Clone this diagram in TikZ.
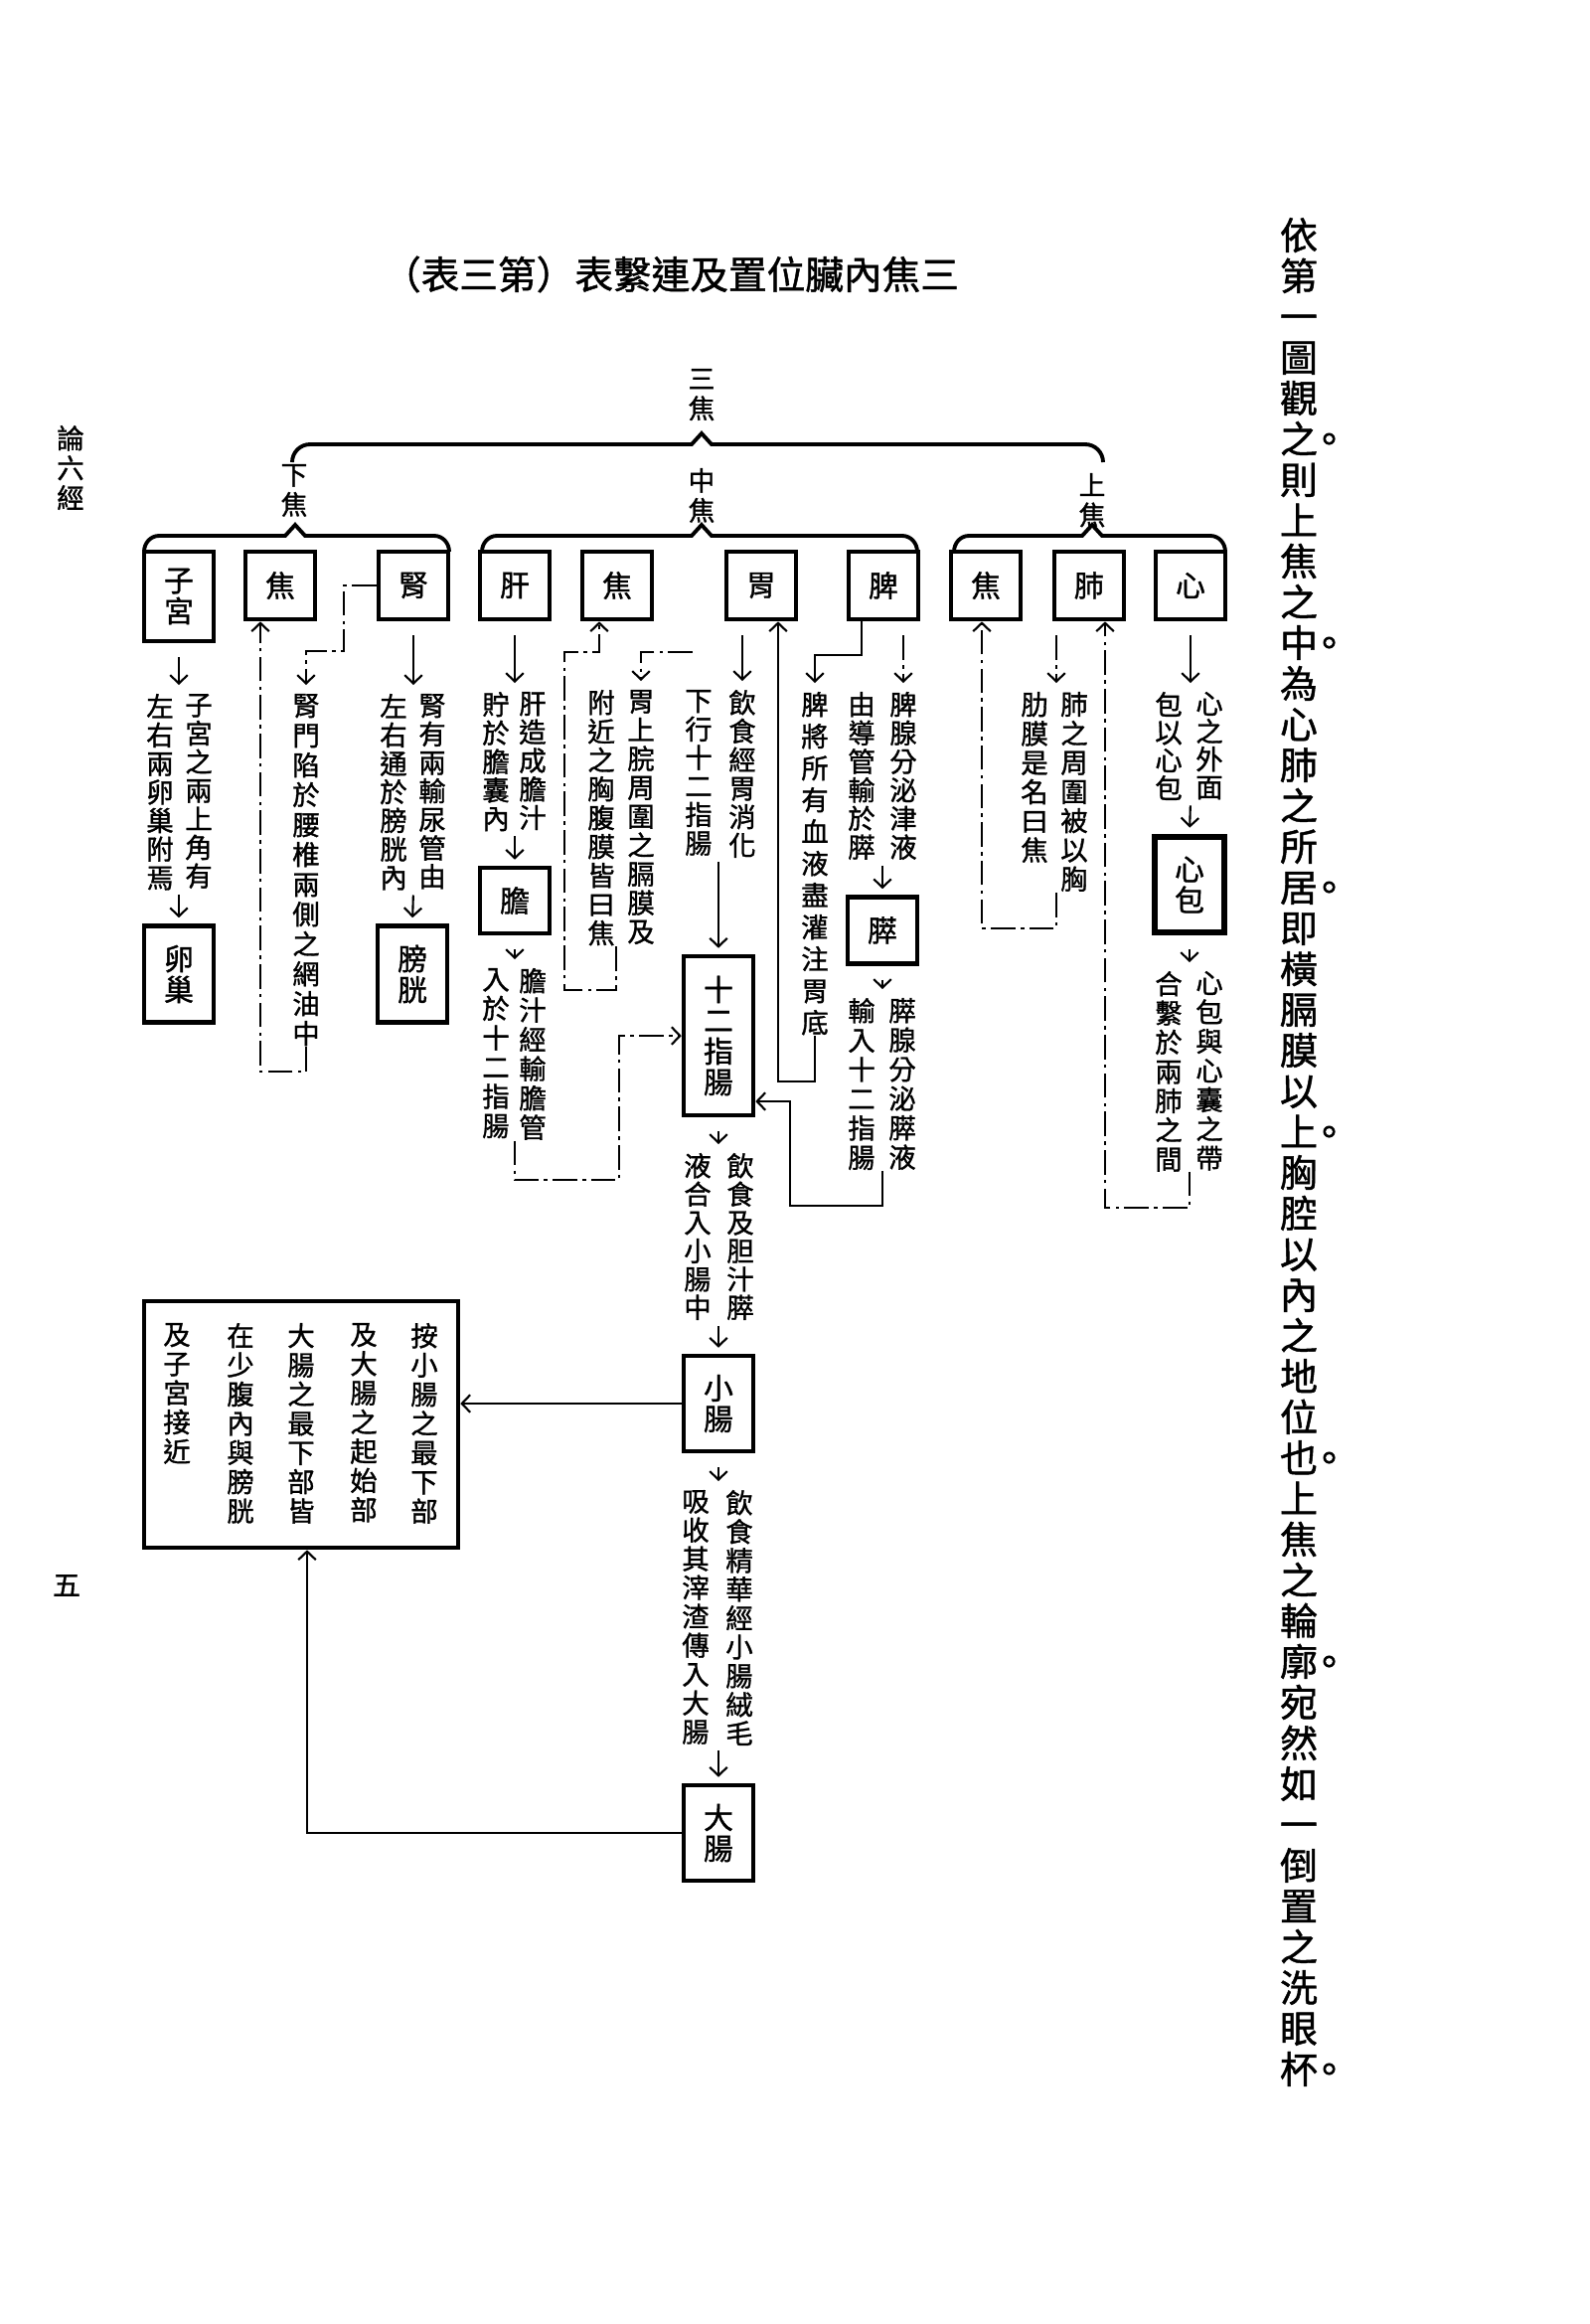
\documentclass[tikz,border=0pt]{standalone}
\usepackage{fontspec}
\newfontfamily\cjk{Noto Sans CJK TC}[FakeBold=1.2]
\usetikzlibrary{arrows.meta}
\setlength\parindent{0pt}
\makeatletter
\newcommand\vcol[1]{\@tfor\vch:=#1\do{\vch\par}}
\makeatother
\newcommand\ju{\rlap{\kern-.2em 。}}

\tikzset{
  organ/.style={draw, line width=1.3pt, minimum width=7mm, minimum height=#1, inner sep=0pt,
    text width=3.2mm, align=center, font=\cjk\fontsize{8.5pt}{3.1mm}\selectfont},
  organ/.default=6.8mm,
  vtext/.style={anchor=north, inner sep=0pt, text width=3mm, align=center,
    font=\cjk\fontsize{7.8pt}{#1}\selectfont},
  vtext/.default=2.87mm,
  head/.style={anchor=north, inner sep=0pt, text width=3mm, align=center,
    font=\cjk\fontsize{7.6pt}{3mm}\selectfont},
  ar/.style={->, shorten <=1.4mm, shorten >=0.8mm},
  ar2/.style={->, shorten <=0.5mm, shorten >=0.6mm},
  brk/.style={dash pattern=on 7pt off 1.5pt on 1pt off 1.5pt},
  brace/.style={line width=1.1pt}
}

\begin{document}
\begin{tikzpicture}[x=0.1mm, y=-0.1mm, line width=0.6pt,
    >={Straight Barb[length=2.4pt,width=5pt]}]
    \useasboundingbox (0,0) rectangle (1600,2338);

    % Titel
    \node[font=\cjk\fontsize{11pt}{13pt}\selectfont, inner sep=0pt] (title) at (675,276)
        {（表三第）表繫連及置位臟內焦三};

    % Rand
    \node[head, font=\cjk\fontsize{7.8pt}{3mm}\selectfont] (lun) at (71,427) {\vcol{論六經}};
    \node[inner sep=0pt, font=\cjk\fontsize{8pt}{9pt}\selectfont] (wu) at (67,1595) {五};

    % rechts
    \node[anchor=north, inner sep=0pt, text width=4mm, align=center,
          font=\cjk\fontsize{10.8pt}{4.1mm}\selectfont] (side) at (1307,218)
        {\vcol{依第一圖觀{之\ju}則上焦之{中\ju}為心肺之所{居\ju}即橫膈膜以{上\ju}胸腔以內之地位{也\ju}上焦之輪{廓\ju}宛然如一倒置之洗眼{杯\ju}}};

    % Klammern
    \node[head] (sanjiao) at (706,370) {\vcol{三焦}};
    \draw[brace] (294,465) to[out=90,in=180] (312,447) -- (696,447) -- (706,436)
                 -- (716,447) -- (1092,447) to[out=0,in=90] (1110,465);
    \node[head] (xiajiao) at (296,466) {\vcol{下焦}};
    \node[head] (zhongjiao) at (706,470) {\vcol{中焦}};
    \node[head] (shangjiao) at (1099,475) {\vcol{上焦}};
    \draw[brace] (145,555) to[out=90,in=180] (160,539) -- (287,539) -- (297,528)
                 -- (307,539) -- (437,539) to[out=0,in=90] (452,555);
    \draw[brace] (485,555) to[out=90,in=180] (500,539) -- (696,539) -- (706,528)
                 -- (716,539) -- (908,539) to[out=0,in=90] (923,555);
    \draw[brace] (960,555) to[out=90,in=180] (975,539) -- (1089,539) -- (1099,528)
                 -- (1109,539) -- (1218,539) to[out=0,in=90] (1233,555);

    % Kaesten
    \node[organ=9mm] (zigong) at (180,600) {\vcol{子宮}};
    \node[organ=9.7mm] (luanchao) at (180,980) {\vcol{卵巢}};
    \node[organ] (jiaoL) at (282,589) {焦};
    \node[organ] (shen) at (416,589) {腎};
    \node[organ=9.7mm] (pangguang) at (415,980) {\vcol{膀胱}};
    \node[organ] (gan) at (518,589) {肝};
    \node[organ=6.6mm] (dan) at (518,906) {膽};
    \node[organ] (jiaoM) at (621,589) {焦};
    \node[organ] (wei) at (766,589) {胃};
    \node[organ] (pi) at (889,589) {脾};
    \node[organ=6.7mm] (cui) at (888,936) {膵};
    \node[organ=16mm] (shier) at (723,1042) {\vcol{十二指腸}};
    \node[organ=9.6mm] (xiao) at (723,1412) {\vcol{小腸}};
    \node[organ=9.6mm] (da) at (723,1844) {\vcol{大腸}};
    \node[organ] (jiaoU) at (992,589) {焦};
    \node[organ] (fei) at (1096,589) {肺};
    \node[organ] (xin) at (1198,589) {心};
    \node[organ=9.6mm, line width=1.9pt] (xinbao) at (1197,890) {\vcol{心包}};
    \node[draw, line width=1.3pt, minimum width=31.6mm, minimum height=24.8mm] (note) at (303,1433) {};

    % Texte
    \node[vtext] (zgR) at (200,697) {\vcol{子宮之兩上角有}};
    \node[vtext] (zgL) at (161,697) {\vcol{左右兩卵巢附焉}};
    \node[vtext=3mm] (smT) at (308,697) {\vcol{腎門陷於腰椎兩側之網油中}};
    \node[vtext] (shR) at (435,697) {\vcol{腎有兩輸尿管由}};
    \node[vtext] (shL) at (396,697) {\vcol{左右通於膀胱內}};
    \node[vtext] (gaR) at (536,695) {\vcol{肝造成膽汁}};
    \node[vtext] (gaL) at (499,695) {\vcol{貯於膽囊內}};
    \node[vtext=2.95mm] (daR) at (536,973) {\vcol{膽汁經輸膽管}};
    \node[vtext=2.95mm] (daL) at (499,973) {\vcol{入於十二指腸}};
    \node[vtext=2.9mm] (jmR) at (645,693) {\vcol{胃上脘周圍之膈膜及}};
    \node[vtext=2.9mm] (jmL) at (605,693) {\vcol{附近之胸腹膜皆曰焦}};
    \node[vtext] (weR) at (747,693) {\vcol{飲食經胃消化}};
    \node[vtext] (weL) at (703,693) {\vcol{下行十二指腸}};
    \node[vtext=3.2mm] (pjT) at (820,695) {\vcol{脾將所有血液盡灌注胃底}};
    \node[vtext] (pxR) at (909,695) {\vcol{脾腺分泌津液}};
    \node[vtext] (pxL) at (867,695) {\vcol{由導管輸於膵}};
    \node[vtext=2.95mm] (cxR) at (908,1003) {\vcol{膵腺分泌膵液}};
    \node[vtext=2.95mm] (cxL) at (867,1003) {\vcol{輸入十二指腸}};
    \node[vtext=2.85mm] (szR) at (745,1159) {\vcol{飲食及胆汁膵}};
    \node[vtext=2.85mm] (szL) at (702,1159) {\vcol{液合入小腸中}};
    \node[vtext=2.9mm] (xcR) at (744,1498) {\vcol{飲食精華經小腸絨毛}};
    \node[vtext=2.9mm] (xcL) at (700,1498) {\vcol{吸收其滓渣傳入大腸}};
    \node[vtext=2.93mm] (feR) at (1081,695) {\vcol{肺之周圍被以胸}};
    \node[vtext=2.93mm] (feL) at (1041,695) {\vcol{肋膜是名曰焦}};
    \node[vtext=2.8mm] (xnR) at (1217,695) {\vcol{心之外面}};
    \node[vtext=2.8mm] (xnL) at (1176,695) {\vcol{包以心包}};
    \node[vtext=2.94mm] (xbR) at (1217,976) {\vcol{心包與心囊之帶}};
    \node[vtext=2.94mm] (xbL) at (1176,976) {\vcol{合繫於兩肺之間}};
    \node[vtext=2.94mm] (n1) at (427,1330) {\vcol{按小腸之最下部}};
    \node[vtext=2.94mm] (n2) at (366,1330) {\vcol{及大腸之起始部}};
    \node[vtext=2.94mm] (n3) at (303,1330) {\vcol{大腸之最下部皆}};
    \node[vtext=2.94mm] (n4) at (242,1330) {\vcol{在少腹內與膀胱}};
    \node[vtext=2.94mm] (n5) at (178,1330) {\vcol{及子宮接近}};

    % 下焦
    \draw[ar] (zigong.south) -- (zigong.south |- zgR.north);
    \draw[ar2] (zigong.south |- zgR.south) -- (luanchao.north);
    \draw[brk,->] (smT.south) -- ++(0,25) -| ([xshift=-2mm]jiaoL.south);
    \draw[brk,->,shorten >=0.8mm] (shen.west) -- ++(-33,0) -- ++(0,66) -| (smT.north);
    \draw[ar] (shen.south) -- (shen.south |- shR.north);
    \draw[ar2] (shen.south |- shR.south) -- (pangguang.north);

    % 中焦
    \draw[ar] (gan.south) -- (gan.south |- gaR.north);
    \draw[ar2] (gan.south |- gaR.south) -- (dan.north);
    \draw[ar] (dan.south) -- (dan.south |- daR.north);
    \coordinate (dnA) at (623,1187);
    \draw[brk,->] (dan.south |- daR.south) |- (dnA) |- (shier.west);
    \coordinate (jmA) at (568,996);
    \coordinate (jmB) at (568,656);
    \draw[brk,->] ([xshift=1.5mm]jmL.south) |- (jmA) -- (jmB) -| ([xshift=-1.8mm]jiaoM.south);
    \coordinate (jmC) at (697,656);
    \draw[brk,->,shorten >=0.8mm] (jmC) -| (jmR.north);
    \draw[ar] ([xshift=-1.9mm]wei.south) -- ([xshift=-1.9mm]wei.south |- weR.north);
    \draw[ar2] (weL.south -| shier.north) -- (shier.north);
    \coordinate (pjA) at (783,1088);
    \draw[->] (pjT.south) |- (pjA) -- (pjA |- wei.south);
    \draw[->,shorten >=0.8mm] ([xshift=-2.2mm]pi.south) -- ++(0,34) -| (pjT.north);
    \draw[brk,ar] ([xshift=2mm]pi.south) -- ([xshift=2mm]pi.south |- pxR.north);
    \draw[ar2] (pxL.south -| cui.north) -- (cui.north);
    \draw[brk,ar] (cui.south) -- (cui.south |- cxR.north);
    \coordinate (cxA) at (795,1213);
    \draw[->] (cui.south |- cxR.south) |- (cxA) |- ([yshift=-6.6mm]shier.east);
    \draw[brk,ar] (shier.south) -- (shier.south |- szR.north);
    \draw[ar2] (szL.south -| xiao.north) -- (xiao.north);
    \draw[->] (xiao.west) -- (xiao.west -| note.east);
    \draw[ar] (xiao.south) -- (xiao.south |- xcR.north);
    \draw[ar2] (xcL.south -| da.north) -- (da.north);
    \draw[->] (da.west) -| ([xshift=0.6mm]note.south);

    % 上焦
    \coordinate (juA) at (988,934);
    \draw[brk,->] ([xshift=-3.3mm]fei.south |- feR.south) |- (juA) -- (juA |- jiaoU.south);
    \draw[brk,ar] ([xshift=-3.3mm]fei.south) -- ([xshift=-3.3mm]fei.south |- feR.north);
    \coordinate (fuA) at (1112,1215);
    \draw[brk,->] (xinbao.south |- xbR.south) |- (fuA) -- (fuA |- fei.south);
    \draw[ar] (xin.south) -- (xin.south |- xnR.north);
    \draw[ar2] (xin.south |- xnR.south) -- (xinbao.north);
    \draw[ar] (xinbao.south) -- (xinbao.south |- xbR.north);
\end{tikzpicture}
\end{document}
